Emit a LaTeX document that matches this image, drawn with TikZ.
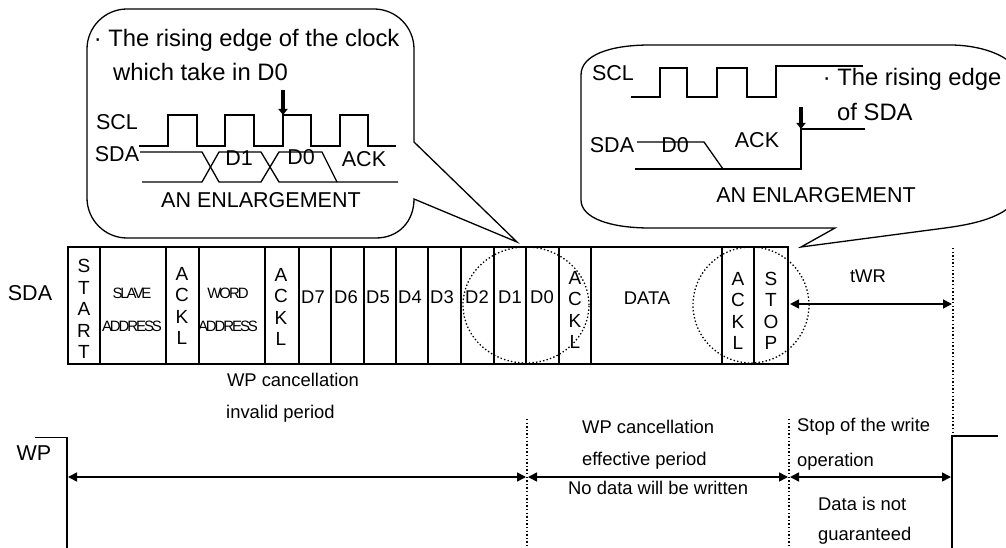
\documentclass[tikz,border=0pt]{standalone}
\usepackage{fontspec}
\usepackage{tikz}
\usetikzlibrary{arrows.meta}
\setmainfont{Liberation Sans}
\newfontfamily\tightfont[LetterSpace=-14]{Liberation Sans}
\tikzset{
  bigtxt/.style={inner sep=0pt,font=\fontsize{23.8}{28}\selectfont},
  midtxt/.style={inner sep=0pt,font=\fontsize{21.5}{26}\selectfont},
  smalltxt/.style={inner sep=0pt,font=\fontsize{18.4}{22}\selectfont},
  tighttxt/.style={inner sep=0pt,font=\fontsize{15}{18}\tightfont},
  stacktxt/.style={inner sep=0pt,align=center,font=\fontsize{19}{21.4}\selectfont},
  wire/.style={line width=1.3pt},
  dotline/.style={line width=1.3pt,dash pattern=on 1.4pt off 2.2pt},
  span/.style={line width=1.5pt,{Triangle[length=9pt,width=9pt]}-{Triangle[length=9pt,width=9pt]}},
  mark edge/.style={line width=3.2pt,-{Triangle[length=6pt,width=9pt]}}
}
\begin{document}
\begin{tikzpicture}[x=1pt,y=-1pt]
\useasboundingbox (0,0) rectangle (1006,548);
\draw[wire] (414,142)--(414,49) .. controls (414,27) and (396,9) .. (374,9)--(127,9) .. controls (105,9) and (87,27) .. (87,49)--(87,198) .. controls (87,220) and (105,238) .. (127,238)--(376,238) .. controls (398,238) and (414,222) .. (414,199)--(517,242)--cycle;
\draw[wire] (835,228)--(801,247)--(945,228) .. controls (975,224) and (998,218) .. (1012,205)--(1012,64) .. controls (1000,52) and (975,45) .. (950,45)--(650,45) .. controls (610,45) and (581,55) .. (581,75)--(581,200) .. controls (581,218) and (610,228) .. (650,228)--cycle;
\draw[wire] (139,146)--(168,146)--(168,115)--(197,115)--(197,146)--(225,146)--(225,115)--(254,115)--(254,146)--(283,146)--(283,115)--(311,115)--(311,146)--(340,146)--(340,115)--(368,115)--(368,146)--(396,146);
\draw[wire] (140,152)--(202,152)--(219,182)--(261,182)--(279,152)--(322,152)--(337,182);
\draw[wire] (142,182)--(202,182)--(219,152)--(261,152)--(279,182)--(398,182);
\coordinate (clkTop) at (283,90);
\coordinate (clkEdge) at (283,115);
\draw[mark edge] (clkTop)--(clkEdge);
\node[midtxt] (sclA) at (117,122) {SCL};
\node[midtxt] (sdaA) at (117,154) {SDA};
\node[midtxt] (dOneA) at (239,158) {D1};
\node[midtxt] (dZeroA) at (301,157) {D0};
\node[midtxt] (ackA) at (364,159) {ACK};
\node[midtxt] (enlargeA) at (261,200) {AN ENLARGEMENT};
\node[bigtxt,anchor=west] (riseA) at (93.6,40) {· The rising edge of the clock};
\node[bigtxt,anchor=west] (riseB) at (113,72) {which take in D0};
\draw[wire] (631,97)--(660,97)--(660,68)--(687,68)--(687,97)--(717,97)--(717,68)--(747,68)--(747,97)--(776,97)--(776,66)--(863,66);
\draw[wire] (637,142)--(704,142)--(723,169);
\draw[wire] (635,169)--(801,169)--(801,129)--(865,129);
\coordinate (sdaTop) at (801,107);
\coordinate (sdaEdge) at (801,129);
\draw[mark edge] (sdaTop)--(sdaEdge);
\node[midtxt] (sclB) at (613,73) {SCL};
\node[midtxt] (sdaB) at (612,145) {SDA};
\node[midtxt] (dZeroB) at (675,145.5) {D0};
\node[midtxt] (ackB) at (757,140) {ACK};
\node[midtxt] (enlargeB) at (816,195) {AN ENLARGEMENT};
\node[bigtxt,anchor=west] (riseC) at (822.6,79) {· The rising edge};
\node[bigtxt,anchor=west] (riseD) at (837,112) {of SDA};
\draw[wire] (68,247) rectangle (788,364);
\foreach \x in {100,166,199,265,299,331,364,396,428,461,494,526,559,591,722,754} {\draw[wire] (\x,247)--(\x,364);}
\node[midtxt] (sdaMain) at (30,293) {SDA};
\node[stacktxt] (start) at (84,309) {S\\T\\A\\R\\T};
\node[tighttxt] (slave) at (132,293) {SLAVE};
\node[tighttxt] (addrA) at (132,326) {ADDRESS};
\node[stacktxt] (ackOne) at (182,306) {A\\C\\K\\L};
\node[tighttxt] (word) at (228,293) {WORD};
\node[tighttxt] (addrB) at (228,326) {ADDRESS};
\node[stacktxt] (ackTwo) at (281,307) {A\\C\\K\\L};
\foreach \n/\x in {D7/313,D6/346,D5/378,D4/410,D3/442,D2/477,D1/510,D0/542} {\node[smalltxt] (bit\n) at (\x,297) {\n};}
\node[stacktxt] (ackThree) at (575,310) {A\\C\\K\\L};
\node[smalltxt] (dataCell) at (647,298) {DATA};
\node[stacktxt] (ackFour) at (738,311) {A\\C\\K\\L};
\node[stacktxt] (stop) at (771,311) {S\\T\\O\\P};
\draw[dotline] (526,305) ellipse [x radius=63pt,y radius=58pt];
\draw[dotline] (751,305) ellipse [x radius=58pt,y radius=58pt];
\node[smalltxt] (twr) at (868,276) {tWR};
\coordinate (stopEnd) at (790,304);
\coordinate (twrEnd) at (952,304);
\draw[span] (stopEnd)--(twrEnd);
\draw[dotline] (953,248)--(953,436);
\draw[dotline] (527,419)--(527,548);
\draw[dotline] (789,419)--(789,548);
\node[midtxt] (wpLabel) at (34,453) {WP};
\draw[wire] (35,437.5)--(67,437.5)--(67,548);
\draw[wire] (998,436)--(952,436)--(952,548);
\coordinate (invStart) at (68,477);
\coordinate (invEnd) at (526,477);
\coordinate (effStart) at (528,477);
\coordinate (effEnd) at (788,477);
\coordinate (stopStart) at (790,477);
\coordinate (stopLast) at (951,477);
\draw[span] (invStart)--(invEnd);
\draw[span] (effStart)--(effEnd);
\draw[span] (stopStart)--(stopLast);
\node[smalltxt] (invA) at (293,380) {WP cancellation};
\node[smalltxt,anchor=west] (invB) at (226,413.5) {invalid period};
\node[smalltxt,anchor=west] (effA) at (582,427) {WP cancellation};
\node[smalltxt,anchor=west] (effB) at (582,460.5) {effective period};
\node[smalltxt,anchor=west] (effC) at (568,488) {No data will be written};
\node[smalltxt,anchor=west] (haltA) at (797,427) {Stop of the write};
\node[smalltxt,anchor=west] (haltB) at (797,461.5) {operation};
\node[smalltxt,anchor=west] (haltC) at (818,504) {Data is not};
\node[smalltxt,anchor=west] (haltD) at (818,536) {guaranteed};
\end{tikzpicture}
\end{document}
